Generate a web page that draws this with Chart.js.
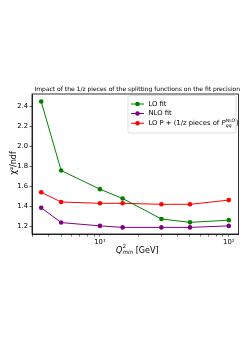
<!DOCTYPE html>
<html>
<head>
<meta charset="utf-8">
<script src="https://cdn.jsdelivr.net/npm/chart.js@4.4.0/dist/chart.umd.min.js"></script>
<style>
  html,body{margin:0;padding:0;background:#fff;}
  #wrap{width:245px;height:347px;position:relative;}
</style>
</head>
<body>
<div id="wrap"><canvas id="c" width="245" height="347"></canvas></div>
<script>
const qMin = [3.5, 5, 10, 15, 30, 50, 100];
const loFit = [2.445, 1.757, 1.571, 1.478, 1.274, 1.240, 1.262];
const nloFit = [1.386, 1.238, 1.205, 1.190, 1.190, 1.190, 1.205];
const loPlus = [1.540, 1.443, 1.430, 1.430, 1.420, 1.420, 1.462];
const yTicks = [1.2, 1.4, 1.6, 1.8, 2.0, 2.2, 2.4];
const xMajor = [10, 100];
const xMinor = [3, 4, 5, 6, 7, 8, 9, 20, 30, 40, 50, 60, 70, 80, 90];

const FONT = '"DejaVu Sans", sans-serif';
const GREEN = '#008000', PURPLE = '#800080', RED = '#ff0000';

function $(sel){return document.querySelector(sel)}

function ds(label, data, color){
  return {label, data: qMin.map((x,i)=>({x, y:data[i]})), borderColor:color, backgroundColor:color,
    borderWidth:1, pointRadius:2.3, pointHoverRadius:2.3, pointBorderWidth:0, tension:0};
}

// draws text with a stacked superscript/subscript, returns new x
function stacked(ctx, x, y, sup, sub, size){
  ctx.font = size + 'px ' + FONT;
  ctx.fillText(sup, x, y - size*0.75);
  ctx.font = 'italic ' + size + 'px ' + FONT;
  ctx.fillText(sub, x, y + size*0.35);
  ctx.font = size + 'px ' + FONT;
  const w1 = ctx.measureText(sup).width;
  ctx.font = 'italic ' + size + 'px ' + FONT;
  const w2 = ctx.measureText(sub).width;
  return x + Math.max(w1, w2);
}

const decor = {
  id:'decor',
  afterDraw(chart){
    const ctx = chart.ctx, a = chart.chartArea;
    ctx.save();
    // frame
    ctx.strokeStyle = '#000'; ctx.lineWidth = 0.8;
    ctx.strokeRect(a.left, a.top, a.right - a.left, a.bottom - a.top);
    ctx.fillStyle = '#000';
    ctx.textBaseline = 'middle';
    // title
    ctx.font = '6px ' + FONT;
    ctx.textAlign = 'center';
    ctx.fillText('Impact of the 1/z pieces of the splitting functions on the fit precision', (a.left+a.right)/2+2, 89.5);
    // y label
    ctx.save();
    ctx.translate(14, 163);
    ctx.rotate(-Math.PI/2);
    ctx.font = '8px ' + FONT;
    ctx.fillText('\u03c7\u00b2/ndf', 0, 0);
    ctx.restore();
    // x label
    ctx.textAlign = 'left';
    let x = 116, y = 250.5;
    ctx.font = 'italic 8px ' + FONT;
    ctx.fillText('Q', x, y);
    x += ctx.measureText('Q').width + 0.3;
    x = stacked(ctx, x, y, '2', 'min', 5.6);
    ctx.font = '8px ' + FONT;
    ctx.fillText(' [GeV]', x, y);
    // legend
    const lx = 128, ly = 95.5, lw = 108, lh = 37.5;
    ctx.fillStyle = 'rgba(255,255,255,0.85)';
    ctx.strokeStyle = '#d8d8d8';
    ctx.lineWidth = 0.8;
    ctx.beginPath();
    ctx.roundRect(lx, ly, lw, lh, 2);
    ctx.fill(); ctx.stroke();
    const rows = [104, 113.5, 123.3];
    chart.data.datasets.forEach((d,i)=>{
      const ry = rows[i];
      ctx.strokeStyle = d.borderColor; ctx.lineWidth = 1;
      ctx.beginPath(); ctx.moveTo(131, ry); ctx.lineTo(144, ry); ctx.stroke();
      ctx.fillStyle = d.borderColor;
      ctx.beginPath(); ctx.arc(137.5, ry, 2.3, 0, Math.PI*2); ctx.fill();
      ctx.fillStyle = '#000';
      ctx.font = '6.8px ' + FONT;
      if(i < 2){
        ctx.fillText(d.label, 148.5, ry);
      } else {
        let tx = 148.5;
        ctx.fillText('LO P + (1/z pieces of ', tx, ry);
        tx += ctx.measureText('LO P + (1/z pieces of ').width;
        ctx.font = 'italic 6.8px ' + FONT;
        ctx.fillText('P', tx, ry);
        tx += ctx.measureText('P').width + 0.3;
        tx = stacked(ctx, tx, ry + 0.5, 'NLO', 'qq', 4.6);
        ctx.font = '6.8px ' + FONT;
        ctx.fillText(')', tx + 0.8, ry);
      }
    });
    ctx.restore();
  }
};

new Chart($('#c').getContext('2d'), {
  type:'line',
  data:{datasets:[ds('LO fit', loFit, GREEN), ds('NLO fit', nloFit, PURPLE), ds('LO P + (1/z pieces of P NLO qq)', loPlus, RED)]},
  options:{
    responsive:false, animation:false,
    layout:{padding:{top:94, right:6.5, left:0, bottom:0}},
    plugins:{legend:{display:false}, title:{display:false}, tooltip:{enabled:false}},
    scales:{
      x:{
        type:'logarithmic', min:2.97, max:119,
        afterFit(s){ s.height = 347-234; },
        afterBuildTicks(s){ s.ticks = xMinor.concat(xMajor).sort((p,q)=>p-q).map(v=>({value:v, major:xMajor.includes(v)})); },
        border:{color:'#000', width:0.8},
        grid:{display:true, drawOnChartArea:false, drawTicks:true, tickLength:2.5, color:'#000', tickWidth:0.6},
        ticks:{autoSkip:false, maxRotation:0, padding:1.5, color:'#000', font:{family:FONT, size:6.8},
          callback(v){ return v===10 ? '10\u00b9' : v===100 ? '10\u00b2' : ''; }}
      },
      y:{
        min:1.124, max:2.52,
        afterFit(s){ s.width = 32; },
        afterBuildTicks(s){ s.ticks = yTicks.map(v=>({value:v})); },
        border:{color:'#000', width:0.8},
        grid:{display:true, drawOnChartArea:false, drawTicks:true, tickLength:2.5, color:'#000', tickWidth:0.6},
        ticks:{padding:1.5, color:'#000', font:{family:FONT, size:6.8}, callback(v){ return v.toFixed(1); }}
      }
    }
  },
  plugins:[decor]
});
</script>
</body>
</html>
